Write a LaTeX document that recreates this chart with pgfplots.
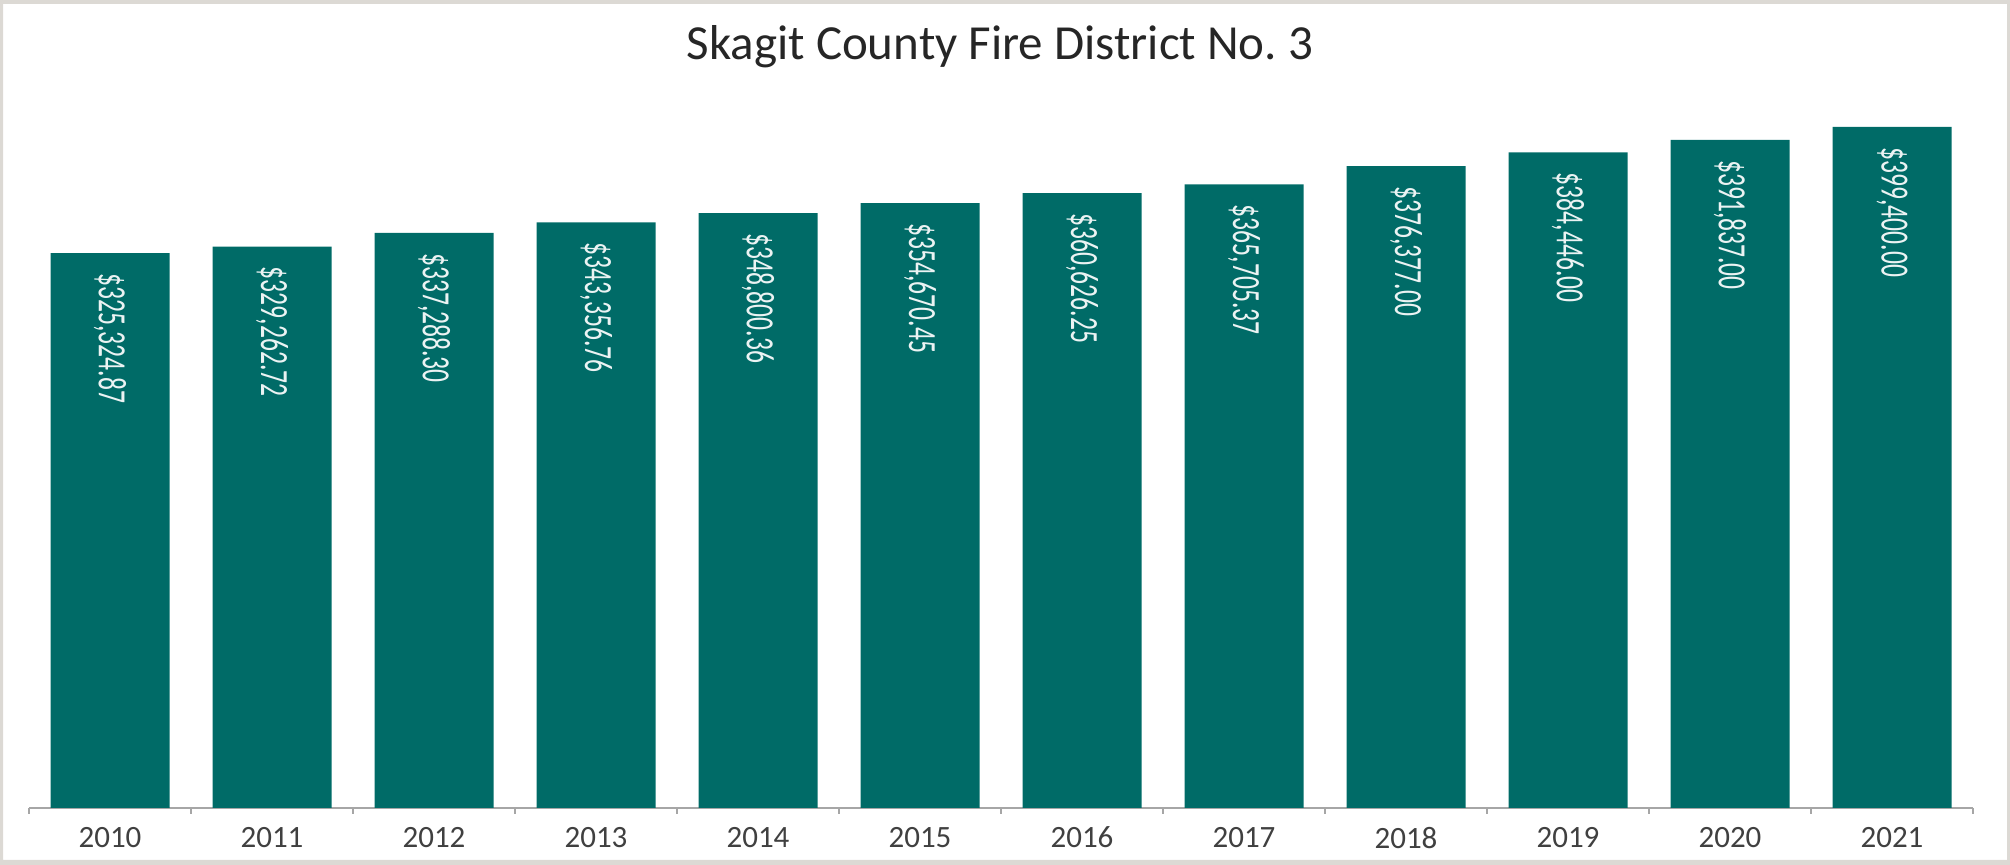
\documentclass[border=0pt]{standalone}
\usepackage{pgfplots}
\pgfplotsset{compat=1.18}
\usepackage{fontspec}
\setmainfont{Carlito}
\newfontfamily\labfont[FakeStretch=0.64]{Carlito}
\definecolor{teal1}{HTML}{006B67}
\definecolor{framegray}{HTML}{DCD9D4}
\definecolor{axgray}{HTML}{A6A6A6}
\definecolor{txtgray}{HTML}{404040}
\begin{document}
\begin{tikzpicture}[x=0.5pt,y=0.5pt]
\path[use as bounding box] (0,0) rectangle (2010,865);
\fill[framegray, even odd rule] (0,0) rectangle (2010,865) (3,5) rectangle (2007,861);
\node[font=\fontsize{24.5}{29}\selectfont, text=black!85] at (1000,818) {Skagit County Fire District No.~3};
\begin{axis}[at={(14.5pt,28.5pt)}, anchor=south west, scale only axis,
  width=972pt, height=354pt,
  xmin=-0.5, xmax=11.5, ymin=0, ymax=415200,
  axis x line*=bottom, axis y line=none,
  x axis line style={-, axgray, line width=1pt},
  xtick={0,...,11},
  xticklabels={2010,2011,2012,2013,2014,2015,2016,2017,2018,2019,2020,2021},
  minor xtick={-0.5,0.5,...,11.5},
  major tick length=0pt, minor tick length=3pt,
  tick align=outside,
  every tick/.style={axgray, line width=1pt},
  xticklabel style={font=\fontsize{15.5}{18}\selectfont, text=txtgray, yshift=-6pt},
  ybar, bar width=59.5pt,
  nodes near coords, point meta=explicit symbolic,
  every node near coord/.append style={font=\labfont\fontsize{20}{24}\selectfont, text=white!92!teal1, yshift=-10pt, rotate=-90, anchor=west, inner sep=0pt},
]
\addplot[fill=teal1, draw=none] coordinates {
(0,325324.87) [\$325,324.87]
(1,329262.72) [\$329,262.72]
(2,337288.30) [\$337,288.30]
(3,343356.76) [\$343,356.76]
(4,348800.36) [\$348,800.36]
(5,354670.45) [\$354,670.45]
(6,360626.25) [\$360,626.25]
(7,365705.37) [\$365,705.37]
(8,376377.00) [\$376,377.00]
(9,384446.00) [\$384,446.00]
(10,391837.00) [\$391,837.00]
(11,399400.00) [\$399,400.00]
};
\end{axis}
\end{tikzpicture}
\end{document}
